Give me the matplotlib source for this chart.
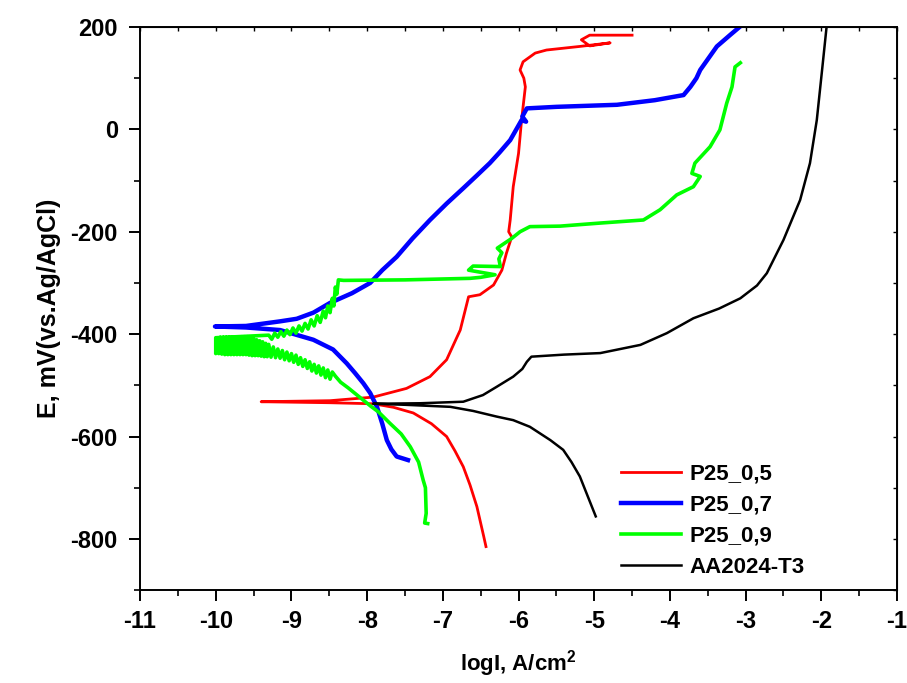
import matplotlib.pyplot as plt
from matplotlib.ticker import MultipleLocator

## -----------------------------------------------------------------------------
## Potentiodynamic polarization curves, E vs logI
## -----------------------------------------------------------------------------

plt.rcParams["font.family"] = ["Liberation Sans", "DejaVu Sans"]
plt.rcParams["font.weight"] = "bold"
plt.rcParams["axes.unicode_minus"] = False

## -----------------------------------------------------------------------------
# P25_0,5 (cathodic end -> Ecorr -> anodic end)
logi_05 = [-6.43, -6.46, -6.55, -6.64, -6.73, -6.84, -6.95, -7.15, -7.39, -7.65, -7.92,
           -8.49, -9.40,
           -8.49, -7.92, -7.48, -7.17, -6.95, -6.82, -6.77, -6.66, -6.51, -6.33, -6.22,
           -6.16, -6.09, -6.13, -6.11, -6.07, -6.00, -5.96, -5.91, -5.93, -5.98, -5.94,
           -5.78, -5.63, -5.19, -4.79, -5.06, -5.17, -5.06, -4.50]
e_05 = [-815, -795, -737, -695, -659, -628, -600, -575, -554, -543, -536,
        -534, -532,
        -530, -523, -506, -483, -450, -408, -392, -327, -323, -304, -275,
        -242, -210, -200, -177, -112, -47, 18, 83, 100, 116, 132,
        149, 155, 162, 169, 163, 175, 184, 184]

# P25_0,7
logi_07 = [-7.46, -7.61, -7.68, -7.74, -7.80, -7.87, -7.96, -8.05, -8.16, -8.27, -8.45,
           -8.71, -9.15, -9.60, -10.01,
           -9.60, -9.15, -8.93, -8.71, -8.49, -8.20, -7.96, -7.80, -7.61, -7.40, -7.17,
           -6.95, -6.73, -6.55, -6.38, -6.25, -6.11, -5.96, -5.90, -5.95, -5.89, -5.50,
           -4.70, -4.20, -3.82, -3.73, -3.65, -3.60, -3.38, -3.20, -3.08]
e_07 = [-646, -639, -625, -607, -575, -542, -515, -496, -476, -457, -430,
        -411, -392, -387, -385,
        -384, -375, -370, -358, -339, -320, -300, -275, -249, -213, -177,
        -145, -115, -90, -66, -45, -21, 18, 15, 25, 41, 44,
        48, 57, 67, 83, 100, 116, 162, 185, 200]

# P25_0,9 (noisy band near Ecorr traced as a zigzag between its edges)
logi_09 = [-7.20, -7.24, -7.22, -7.23, -7.26, -7.32, -7.43, -7.55, -7.70, -7.85, -7.95,
           -8.05, -8.15, -8.25, -8.35, -8.42,
           # lower branch, going left
           -8.46, -8.49, -8.52, -8.55, -8.58, -8.61, -8.64, -8.67, -8.70, -8.73, -8.76,
           -8.79, -8.82, -8.85, -8.88, -8.91, -8.94, -8.97, -9.00, -9.03, -9.06, -9.09,
           -9.12, -9.15, -9.18, -9.21, -9.24, -9.27,
           # wide band around Ecorr
           -9.30, -9.32, -9.34, -9.36, -9.38, -9.40, -9.42, -9.44, -9.46, -9.48, -9.50,
           -9.52, -9.54, -9.56, -9.58, -9.60, -9.62, -9.64, -9.66, -9.68, -9.70, -9.72,
           -9.74, -9.76, -9.78, -9.80, -9.82, -9.84, -9.86, -9.88, -9.90, -9.92, -9.94,
           -9.96, -9.98, -10.00, -10.00,
           # upper branch, going right
           -9.30, -9.26, -9.22, -9.18, -9.14, -9.10, -9.06, -9.02, -8.98, -8.94, -8.90,
           -8.86, -8.82, -8.78, -8.74, -8.70, -8.66, -8.62, -8.58, -8.55, -8.52, -8.49,
           -8.46, -8.44, -8.42, -8.40, -8.38,
           # plateau and anodic rise
           -8.31, -7.50, -6.64, -6.50, -6.31, -6.66, -6.60, -6.24, -6.26, -6.22, -6.28,
           -6.09, -5.98, -5.85, -5.45, -4.92, -4.35, -4.13, -3.91, -3.69, -3.60, -3.71,
           -3.67, -3.47, -3.34, -3.25, -3.18, -3.14, -3.07]
e_09 = [-770, -769, -750, -700, -685, -650, -620, -595, -574, -552, -541,
        -529, -517, -505, -494, -482,
        -474, -488, -470, -485, -466, -480, -462, -476, -459, -472, -454,
        -467, -450, -463, -446, -459, -441, -455, -438, -452, -435, -450,
        -432, -447, -429, -446, -425, -445,
        -420, -444, -418, -444, -415, -443, -413, -442, -411, -442, -409,
        -442, -407, -441, -405, -440, -405, -440, -405, -440, -406, -440,
        -406, -440, -406, -440, -406, -440, -406, -440, -406, -439, -406,
        -438, -407, -438, -407,
        -402, -410, -398, -406, -395, -404, -392, -401, -388, -398, -384,
        -394, -379, -390, -372, -384, -364, -377, -355, -368, -345, -358,
        -330, -345, -308, -322, -294,
        -295, -294, -291, -289, -284, -275, -267, -268, -253, -241, -232,
        -213, -200, -190, -189, -183, -177, -157, -128, -112, -92, -86,
        -66, -34, -1, 51, 83, 122, 130]

# AA2024-T3
logi_aa = [-4.98, -5.05, -5.19, -5.30, -5.41, -5.58, -5.85, -6.07, -6.29, -6.60, -6.90,
           -7.50, -7.92,
           -7.30, -6.73, -6.47, -6.29, -6.07, -5.95, -5.89, -5.83, -5.40, -4.92, -4.39,
           -4.04, -3.69, -3.35, -3.07, -2.85, -2.72, -2.50, -2.28, -2.15, -2.06, -1.99,
           -1.93]
e_aa = [-756, -730, -678, -650, -626, -607, -581, -568, -561, -550, -542,
        -538, -536,
        -535, -532, -519, -503, -483, -468, -454, -444, -440, -437, -421,
        -398, -369, -350, -330, -305, -281, -216, -138, -66, 18, 116,
        201]

## -----------------------------------------------------------------------------
# plot
fig, ax = plt.subplots(figsize=(9.07, 6.83), dpi=100)
fig.subplots_adjust(left=0.1544, right=0.989, bottom=0.136, top=0.9605)

ax.plot(logi_05, e_05, color="#ff0000", lw=2.0, label="P25_0,5")
ax.plot(logi_07, e_07, color="#0000ff", lw=3.2, label="P25_0,7")
ax.plot(logi_09, e_09, color="#00ff00", lw=2.6, label="P25_0,9")
ax.plot(logi_aa, e_aa, color="#000000", lw=1.8, label="AA2024-T3")

ax.set_xlim(-11, -1)
ax.set_ylim(-900, 200)
ax.xaxis.set_major_locator(MultipleLocator(1))
ax.xaxis.set_minor_locator(MultipleLocator(0.5))
ax.yaxis.set_major_locator(MultipleLocator(200))
ax.yaxis.set_minor_locator(MultipleLocator(100))
ax.tick_params(which="major", direction="out", length=8, width=1.4, labelsize=17, pad=6)
ax.tick_params(axis="y", which="major", pad=8)
ax.tick_params(which="minor", direction="out", length=4, width=1.2)
for lbl in ax.get_xticklabels() + ax.get_yticklabels():
    lbl.set_fontweight("bold")
for sp in ax.spines.values():
    sp.set_linewidth(1.4)

# small inward ticks on the top and right axes
top = ax.secondary_xaxis("top")
top.xaxis.set_major_locator(MultipleLocator(1))
top.xaxis.set_minor_locator(MultipleLocator(0.5))
top.tick_params(which="both", direction="in", length=3, width=1.0, labeltop=False)
right = ax.secondary_yaxis("right")
right.yaxis.set_major_locator(MultipleLocator(200))
right.yaxis.set_minor_locator(MultipleLocator(100))
right.tick_params(which="both", direction="in", length=3, width=1.0, labelright=False)

ax.set_xlabel(r"logI, A/cm$^\mathregular{2}$", fontsize=16, fontweight="bold", labelpad=11)
ax.set_ylabel("E, mV(vs.Ag/AgCl)", fontsize=18, fontweight="bold", labelpad=7)

leg = ax.legend(loc="lower left", bbox_to_anchor=(0.635, 0.022), frameon=False,
                borderpad=0, borderaxespad=0,
                handlelength=2.7, handletextpad=0.4, labelspacing=0.45,
                prop={"size": 16, "weight": "bold"})

plt.savefig("out.png", dpi=100)
